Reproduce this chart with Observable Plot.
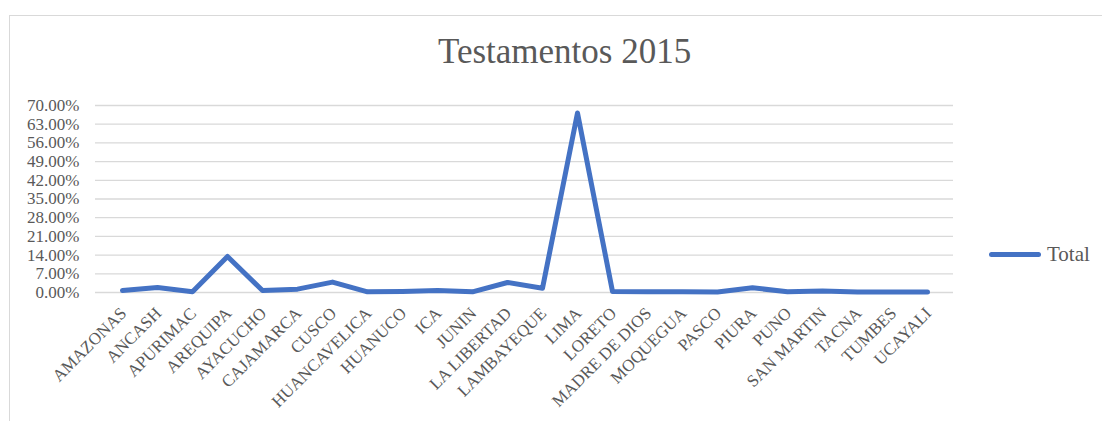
<!DOCTYPE html>
<html>
<head>
<meta charset="utf-8">
<script src="https://cdn.jsdelivr.net/npm/d3@7"></script>
<script src="https://cdn.jsdelivr.net/npm/@observablehq/plot@0.6"></script>
<style>
  html, body { margin: 0; padding: 0; background: #fff; }
  #wrap { position: relative; width: 1102px; height: 421px; overflow: hidden; font-family: "Liberation Serif", serif; }
  #frame { position: absolute; left: 9px; top: 15px; width: 1200px; height: 500px; border-top: 1px solid #d9d9d9; border-left: 1px solid #d9d9d9; }
  #chart { position: absolute; left: 0; top: 0; }
  #chart svg text { font-family: "Liberation Serif", serif; }
  #title { position: absolute; left: 438px; top: 32px; font-size: 35px; color: #595959; white-space: nowrap; }
  #legend { position: absolute; left: 989px; top: 242px; display: flex; align-items: center; font-size: 21px; color: #595959; }
  #legend .sw { width: 52px; height: 5px; border-radius: 3px; background: #4472C4; margin-right: 6px; }
</style>
</head>
<body>
<div id="wrap">
  <div id="frame"></div>
  <div id="chart"></div>
  <div id="title">Testamentos 2015</div>
  <div id="legend"><span class="sw"></span><span>Total</span></div>
</div>
<script>
const regions = ["AMAZONAS","ANCASH","APURIMAC","AREQUIPA","AYACUCHO","CAJAMARCA","CUSCO","HUANCAVELICA","HUANUCO","ICA","JUNIN","LA LIBERTAD","LAMBAYEQUE","LIMA","LORETO","MADRE DE DIOS","MOQUEGUA","PASCO","PIURA","PUNO","SAN MARTIN","TACNA","TUMBES","UCAYALI"];
const totals = [0.0075,0.019,0.0025,0.135,0.0075,0.0125,0.039,0.0025,0.004,0.0075,0.0025,0.0375,0.016,0.672,0.004,0.003,0.003,0.002,0.0175,0.003,0.006,0.002,0.002,0.002];
const yTicks = [0,0.07,0.14,0.21,0.28,0.35,0.42,0.49,0.56,0.63,0.70];

const data = regions.map((r, i) => ({region: r, total: totals[i]}));
const serif = "'Liberation Serif', serif";

const chart = Plot.plot({
  width: 1102,
  height: 421,
  marginLeft: 95,
  marginRight: 149,
  marginTop: 105,
  marginBottom: 129,
  style: {fontFamily: serif, fontSize: "17px", color: "#595959", background: "transparent"},
  x: {type: "point", domain: regions, padding: 0.5, label: null},
  y: {domain: [0, 0.70], label: null},
  marks: [
    Plot.gridY(yTicks, {stroke: "#d9d9d9", strokeOpacity: 1, strokeWidth: 1.3}),
    Plot.axisY(yTicks, {tickFormat: d3.format(".2%"), tickSize: 0, tickPadding: 16, fontSize: 17, fontFamily: serif, fill: "#595959", label: null}),
    Plot.axisX({tickSize: 0, tickRotate: -45, tickPadding: 18, dx: 1, lineAnchor: "middle", textAnchor: "end", fontSize: 17, fontFamily: serif, fill: "#595959", label: null}),
    Plot.line(data, {x: "region", y: "total", stroke: "#4472C4", strokeWidth: 5, strokeLinejoin: "round", strokeLinecap: "round"})
  ]
});
document.getElementById("chart").appendChild(chart);
</script>
</body>
</html>
